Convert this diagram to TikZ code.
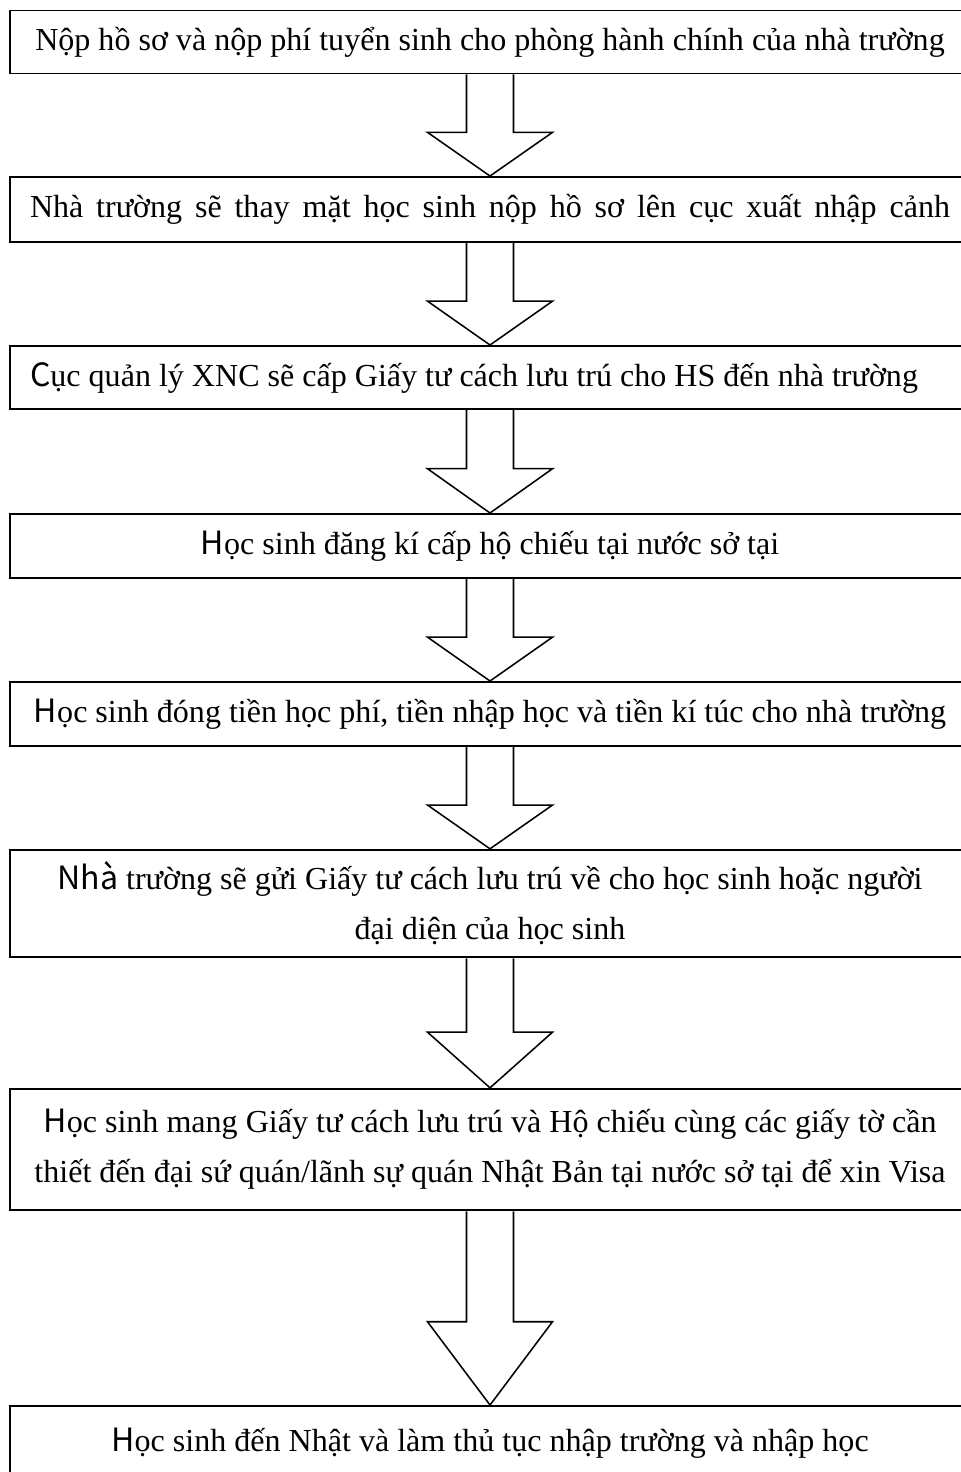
\documentclass[tikz,border=0pt]{standalone}
\usepackage{fontspec}
\setmainfont{Liberation Serif}
\newfontfamily\gothic{Noto Sans CJK JP}
\usetikzlibrary{calc}

\begin{document}
\begin{tikzpicture}[
            stepbox/.style={draw, line width=1.4pt, rectangle, inner sep=0pt, minimum width=24cm, align=center, font=\fontsize{22.8}{35.6}\selectfont},
            blockarrow/.style={draw, line width=1.1pt, line join=miter},
        ]
        \useasboundingbox (0, 0) rectangle (24.025, -36.8);

        \node[stepbox, minimum height=1.575cm] (b1) at (12.25, -1.05) {Nộp hồ sơ và nộp phí tuyển sinh cho phòng hành chính của nhà trường};
        \node[stepbox, minimum height=1.625cm] (b2) at (12.25, -5.2375) {\makebox[23cm][s]{Nhà trường sẽ thay mặt học sinh nộp hồ sơ lên cục xuất nhập cảnh}};
        \node[stepbox, minimum height=1.575cm] (b3) at (12.25, -9.4375) {\makebox[23cm][l]{{\gothic C}ục quản lý XNC sẽ cấp Giấy tư cách lưu trú cho HS đến nhà trường}};
        \node[stepbox, minimum height=1.6cm] (b4) at (12.25, -13.65) {{\gothic H}ọc sinh đăng kí cấp hộ chiếu tại nước sở tại};
        \node[stepbox, minimum height=1.6cm] (b5) at (12.25, -17.85) {{\gothic H}ọc sinh đóng tiền học phí, tiền nhập học và tiền kí túc cho nhà trường};
        \node[stepbox, minimum height=2.69cm] (b6) at (12.25, -22.59) {{\gothic Nhà} trường sẽ gửi Giấy tư cách lưu trú về cho học sinh hoặc người\\đại diện của học sinh};
        \node[stepbox, minimum height=3.04cm] (b7) at (12.25, -28.74) {{\gothic H}ọc sinh mang Giấy tư cách lưu trú và Hộ chiếu cùng các giấy tờ cần\\thiết đến đại sứ quán/lãnh sự quán Nhật Bản tại nước sở tại để xin Visa};
        \node[stepbox, minimum height=1.85cm] (b8) at (12.25, -36.075) {{\gothic H}ọc sinh đến Nhật và làm thủ tục nhập trường và nhập học};

        % block arrows between the steps
        \foreach \from/\to in {b1/b2, b2/b3, b3/b4, b4/b5, b5/b6, b6/b7, b7/b8}
            \draw[blockarrow] let \p1 = (\from.south), \p2 = (\to.north), \n1 = {0.43*(\y1-(\y2))} in
                (\x1-0.5875cm, \y1) -- (\x1-0.5875cm, \y2+\n1) -- (\x1-1.5625cm, \y2+\n1) -- (\p2)
                -- (\x1+1.5625cm, \y2+\n1) -- (\x1+0.5875cm, \y2+\n1) -- (\x1+0.5875cm, \y1);
\end{tikzpicture}
\end{document}
